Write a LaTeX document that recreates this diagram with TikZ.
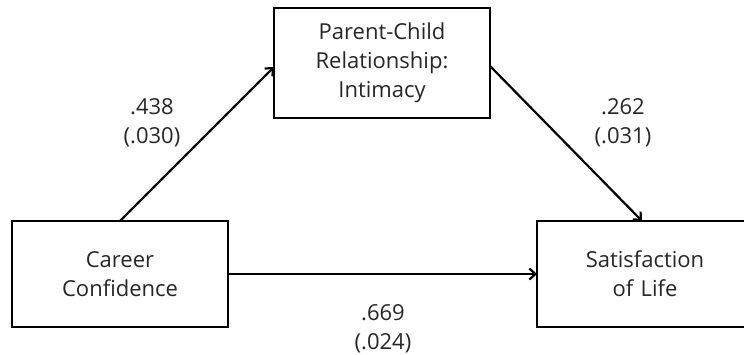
\documentclass[tikz,border=0pt]{standalone}
\usepackage{fontspec}
\setmainfont{Open Sans}
\usetikzlibrary{arrows.meta}
\begin{document}
\begin{tikzpicture}[x=1pt,y=-1pt,
  every node/.style={inner sep=0pt, outer sep=0pt, text=black!85,
    font=\fontsize{22}{29}\selectfont, align=center},
  varbox/.style={draw=black, line width=2.8pt, minimum width=216pt, text width=210pt},
  conn/.style={draw=black, line width=2.2pt, -{Straight Barb[length=6pt,width=11pt,line width=2.2pt]}},
  coef/.style={}]
\clip (0,0) rectangle (744,355);
\node[varbox, minimum height=106pt] (cc) at (120,274) {Career\\Confidence};
\node[varbox, minimum height=110pt] (pc) at (382,63) {Parent-Child\\Relationship:\\Intimacy};
\node[varbox, minimum height=106pt] (sl) at (645,274) {Satisfaction\\of Life};
\draw[conn] (cc.north) -- ([yshift=-4pt]pc.west);
\draw[conn] ([yshift=-3pt]pc.east) -- ([xshift=-3pt]sl.north);
\draw[conn] (cc.east) -- (sl.west);
\node[coef] (a) at (152,122.5) {.438\\(.030)};
\node[coef] (b) at (623,122.5) {.262\\(.031)};
\node[coef] (c) at (383,328.5) {.669\\(.024)};
\end{tikzpicture}
\end{document}
